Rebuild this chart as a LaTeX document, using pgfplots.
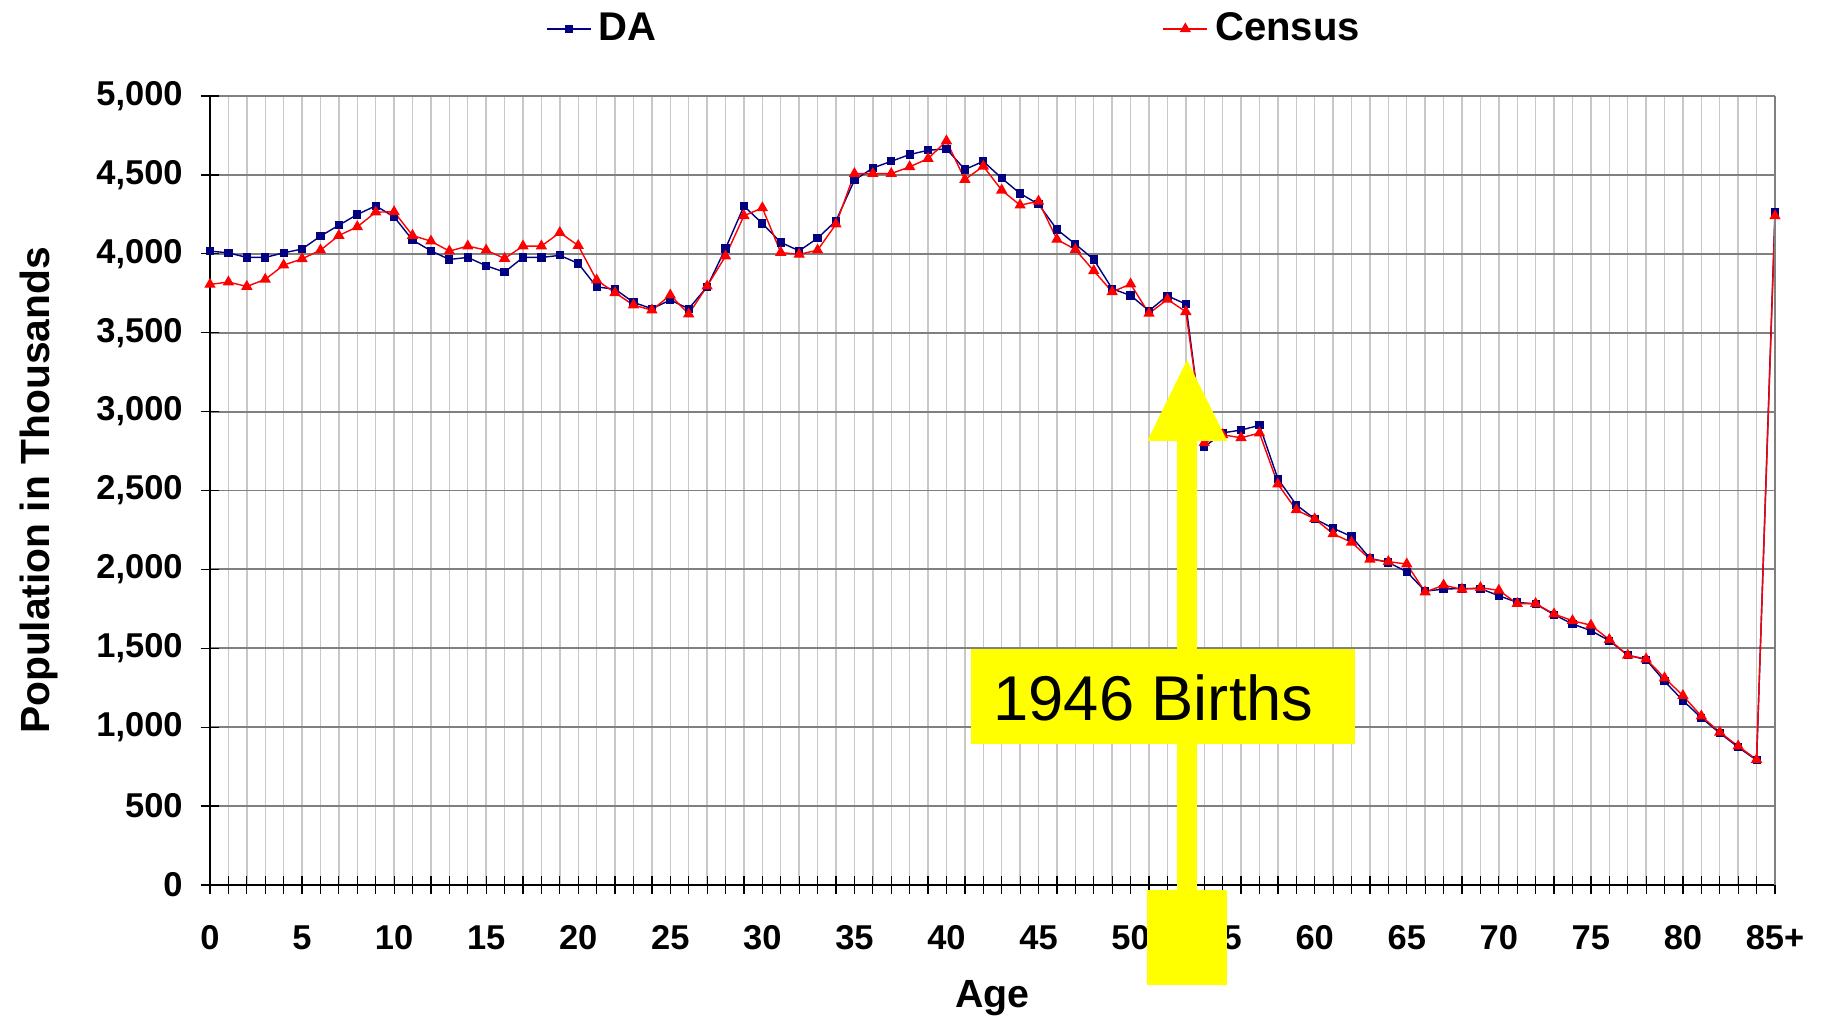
\documentclass[border=0pt]{standalone}
\usepackage{fontspec}
\setmainfont{Liberation Sans}
\usepackage{pgfplots}
\pgfplotsset{compat=1.18}
\definecolor{danavy}{RGB}{0,0,128}
\definecolor{cred}{RGB}{255,0,0}
\definecolor{gridmaj}{RGB}{128,128,128}
\definecolor{gridmin}{RGB}{200,200,200}
\definecolor{yel}{RGB}{255,255,0}

\pgfplotstableread{
age val
0 4017
1 4006
2 3977
3 3977
4 4006
5 4030
6 4112
7 4181
8 4249
9 4304
10 4234
11 4087
12 4019
13 3964
14 3977
15 3924
16 3884
17 3977
18 3977
19 3990
20 3939
21 3790
22 3776
23 3692
24 3652
25 3707
26 3652
27 3791
28 4034
29 4302
30 4192
31 4072
32 4019
33 4099
34 4209
35 4466
36 4544
37 4586
38 4629
39 4656
40 4665
41 4534
42 4586
43 4479
44 4382
45 4314
46 4154
47 4061
48 3964
49 3778
50 3736
51 3639
52 3734
53 3681
54 2776
55 2865
56 2883
57 2913
58 2574
59 2409
60 2320
61 2261
62 2208
63 2070
64 2044
65 1985
66 1862
67 1875
68 1879
69 1878
70 1833
71 1791
72 1781
73 1713
74 1654
75 1612
76 1548
77 1456
78 1428
79 1291
80 1169
81 1059
82 963
83 873
84 791
85 4265
}\datable

\pgfplotstableread{
age val
0 3806
1 3821
2 3793
3 3838
4 3928
5 3968
6 4023
7 4116
8 4171
9 4264
10 4266
11 4116
12 4080
13 4017
14 4049
15 4023
16 3970
17 4049
18 4049
19 4134
20 4052
21 3833
22 3753
23 3675
24 3643
25 3738
26 3618
27 3795
28 3985
29 4241
30 4291
31 4008
32 3996
33 4023
34 4188
35 4508
36 4508
37 4508
38 4551
39 4603
40 4715
41 4470
42 4555
43 4403
44 4308
45 4333
46 4091
47 4027
48 3892
49 3759
50 3808
51 3622
52 3711
53 3633
54 2802
55 2853
56 2834
57 2864
58 2540
59 2377
60 2320
61 2225
62 2172
63 2064
64 2049
65 2034
66 1856
67 1900
68 1873
69 1884
70 1867
71 1783
72 1783
73 1717
74 1675
75 1646
76 1555
77 1456
78 1432
79 1312
80 1200
81 1070
82 968
83 880
84 795
85 4240
}\censustable

\begin{document}
\begin{tikzpicture}
\begin{axis}[
  at={(0,0)}, anchor=south west,
  scale only axis, width=15.65cm, height=7.89cm,
  xmin=0, xmax=85, ymin=0, ymax=5000,
  clip=false,
  axis lines=left,
  axis line style={black, line width=0.4pt, -},
  xtick={0,...,85},
  xticklabels={0,,,,,5,,,,,10,,,,,15,,,,,20,,,,,25,,,,,30,,,,,35,,,,,40,,,,,45,,,,,50,,,,,55,,,,,60,,,,,65,,,,,70,,,,,75,,,,,80,,,,,85+},
  ytick={0,500,...,5000},
  yticklabels={0,500,{1,000},{1,500},{2,000},{2,500},{3,000},{3,500},{4,000},{4,500},{5,000}},
  tick align=center,
  major tick length=1.8mm,
  tick style={black, line width=0.35pt},
  xmajorgrids, ymajorgrids,
  x grid style={gridmin, line width=0.4pt},
  y grid style={gridmaj, line width=0.55pt},
  xticklabel style={font=\fontsize{9.8}{11}\selectfont\bfseries, yshift=-1.9mm},
  yticklabel style={font=\fontsize{9.8}{11}\selectfont\bfseries, xshift=-0.6mm},
  xlabel={Age},
  ylabel={Population in Thousands},
  xlabel style={font=\fontsize{11.2}{13}\selectfont\bfseries, at={(axis description cs:0.5,-0.144)}, anchor=center},
  ylabel style={font=\fontsize{11.6}{13}\selectfont\bfseries, at={(axis description cs:-0.1095,0.5)}, anchor=center, rotate=0},
  legend columns=2,
  legend cell align=left,
  legend style={at={(axis description cs:0.2077,1.085)}, anchor=west, draw=none, fill=none,
    font=\fontsize{11.4}{13}\selectfont\bfseries,
    /tikz/every even column/.append style={column sep=4.99cm}},
  legend image code/.code={\draw[mark repeat=2,mark phase=2,#1] plot coordinates {(0cm,0cm) (0.22cm,0cm) (0.44cm,0cm)};},
]
\addplot[danavy, line width=0.4pt, mark=square*, mark size=0.34mm, mark options={solid, fill=danavy}] table[x=age, y=val] {\datable};
\addlegendentry{DA}
\addplot[cred, line width=0.4pt, mark=triangle*, mark size=0.52mm, mark options={solid, fill=cred}] table[x=age, y=val] {\censustable};
\addlegendentry{Census}
\draw[gridmaj, line width=0.5pt] (axis cs:85,0) -- (axis cs:85,5000);
\end{axis}
% annotation
\fill[yel] (9.673,-0.05) rectangle (9.867,4.45);
\fill[yel] (9.373,4.44) -- (9.77,5.25) -- (10.173,4.44) -- cycle;
\fill[yel] (7.61,1.41) rectangle (11.45,2.36);
\fill[yel] (9.37,-1.00) rectangle (10.17,-0.05);
\node[anchor=base, inner sep=0pt, font=\fontsize{18}{20}\selectfont] at (9.435,1.64) {1946 Births};
\pgfresetboundingbox
\path[use as bounding box] (-2.10,-1.32) rectangle (16.20,8.85);
\end{tikzpicture}
\end{document}
